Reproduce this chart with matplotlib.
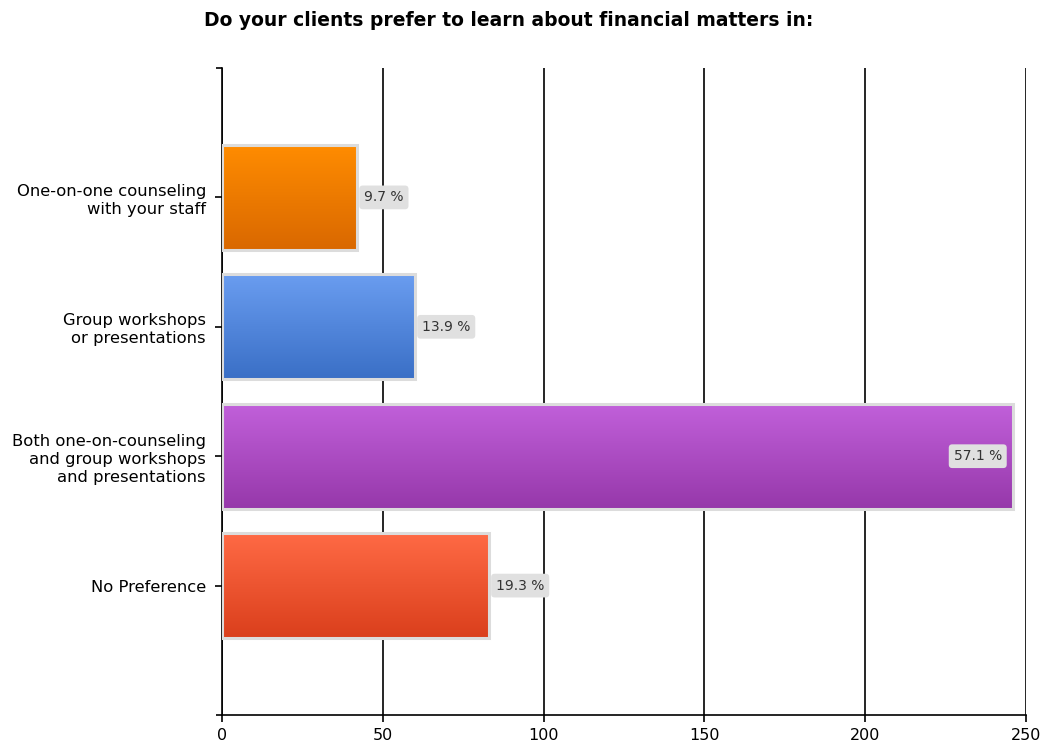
import numpy as np
import matplotlib.pyplot as plt
from matplotlib.colors import LinearSegmentedColormap
from matplotlib.patches import Rectangle

plt.rcParams['font.family'] = ['DejaVu Sans']

categories = [
    "One-on-one counseling\nwith your staff",
    "Group workshops\nor presentations",
    "Both one-on-counseling\nand group workshops\nand presentations",
    "No Preference",
]
counts = [42, 60, 246, 83]
percent_labels = ["9.7 %", "13.9 %", "57.1 %", "19.3 %"]
# top / bottom colour of each bar's vertical gradient
grad_top = ["#ff8c00", "#6a9df0", "#c160da", "#ff6a45"]
grad_bottom = ["#d96800", "#3a6fc6", "#9638aa", "#da3f1c"]
xticks = [0, 50, 100, 150, 200, 250]

fig = plt.figure(figsize=(10.47, 7.47), dpi=100)
ax = fig.add_axes([222 / 1047, 1 - 715 / 747, (1026 - 222) / 1047, (715 - 68) / 747])

bar_h = 0.81
grad = np.linspace(0, 1, 512).reshape(-1, 1)
for i, (v, c0, c1) in enumerate(zip(counts, grad_top, grad_bottom)):
    cmap = LinearSegmentedColormap.from_list(f"g{i}", [c0, c1])
    y0, y1 = i - bar_h / 2, i + bar_h / 2
    ax.imshow(grad, cmap=cmap, aspect='auto', extent=(0, v, y1, y0),
              interpolation='nearest', zorder=3)
    ax.add_patch(Rectangle((0, y0), v, bar_h, fill=False, edgecolor='#dcdcdc',
                           linewidth=2.2, zorder=4))
    lab_kw = dict(fontsize=10, color='#333333', va='center', zorder=6,
                  bbox=dict(boxstyle='round,pad=0.35,rounding_size=0.25',
                            facecolor='#e0e0e0', edgecolor='none'))
    if v > 200:
        ax.text(v - 3.5, i, percent_labels[i], ha='right', **lab_kw)
    else:
        ax.text(v + 2.2, i, percent_labels[i], ha='left', **lab_kw)

# restore limits after imshow
ax.set_xlim(0, 250)
ax.set_ylim(4, -1)

ax.set_xticks(xticks)
ax.set_xticklabels([str(t) for t in xticks], fontsize=11.5)
ax.set_yticks(range(len(categories)))
ax.set_yticklabels(categories, fontsize=11.8, linespacing=1.25)
ax.set_yticks([-1, 4], minor=True)
ax.tick_params(axis='y', which='minor', length=4, width=1.2)
ax.tick_params(axis='both', which='major', length=5, width=1.2, colors='black')
ax.tick_params(axis='y', which='major', pad=6.5)
ax.tick_params(axis='x', pad=4)

ax.grid(axis='x', color='black', linewidth=1.2, zorder=1)
ax.set_axisbelow(True)
for s in ['top', 'right']:
    ax.spines[s].set_visible(False)
ax.spines['left'].set_linewidth(1.2)
ax.spines['bottom'].set_linewidth(1.2)

fig.text(509 / 1047, 1 - 20 / 747, "Do your clients prefer to learn about financial matters in:",
         ha='center', va='center', fontsize=13.5, fontweight='bold')

fig.savefig('out.png', dpi=100)
